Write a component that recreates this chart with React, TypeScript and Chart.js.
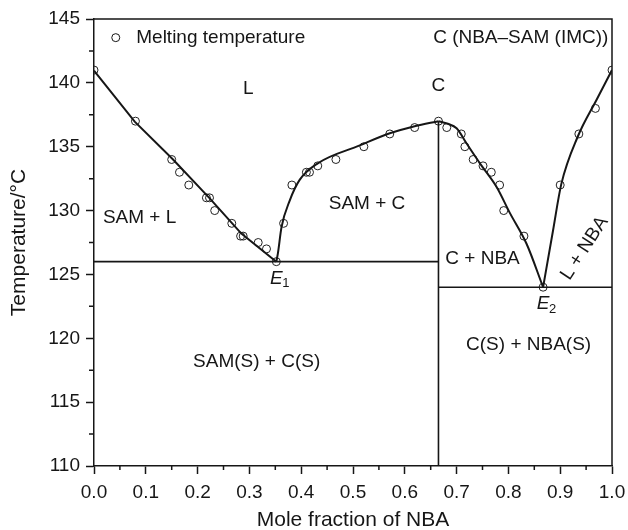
import React, { useEffect, useRef } from "react";
import { Chart, registerables } from "chart.js";

Chart.register(...registerables);

const FONT = '"Liberation Sans", Arial, Helvetica, sans-serif';
const INK = "#161616";

// Measured melting temperatures (open circles)
const meltX = [0.0, 0.08, 0.15, 0.165, 0.183, 0.217, 0.223, 0.233, 0.266, 0.283, 0.288, 0.317, 0.333, 0.352, 0.366, 0.382, 0.41, 0.416, 0.432, 0.467, 0.521, 0.571, 0.619, 0.665, 0.681, 0.709, 0.716, 0.732, 0.751, 0.767, 0.783, 0.791, 0.83, 0.867, 0.9, 0.936, 0.968, 1.0];
const meltT = [141, 137, 134, 133, 132, 131, 131, 130, 129, 128, 128, 127.5, 127, 126, 129, 132, 133, 133, 133.5, 134, 135, 136, 136.5, 137, 136.5, 136, 135, 134, 133.5, 133, 132, 130, 128, 124, 132, 136, 138, 141];

// Liquidus branches
const liqAX = [0.0, 0.0786, 0.1526, 0.2234, 0.2845, 0.352];
const liqAT = [140.95, 136.96, 134.0, 130.96, 128.2, 126];
const liqBX = [0.352, 0.355, 0.362, 0.378, 0.397, 0.432, 0.513, 0.571, 0.619, 0.665];
const liqBT = [126, 126.65, 128.7, 130.8, 132.4, 133.7, 135.1, 136.05, 136.6, 137];
const liqCX = [0.665, 0.683, 0.7, 0.719, 0.745, 0.777, 0.803, 0.835, 0.867];
const liqCT = [137, 136.8, 136.44, 135.27, 133.7, 131.87, 129.8, 127.4, 124];
const liqDX = [0.867, 0.886, 0.902, 0.934, 0.97, 1.0];
const liqDT = [124, 128.4, 132.05, 135.8, 138.66, 141];

// Eutectic lines and compound line
const eut1X = [0.0, 0.665];
const eut1T = [126, 126];
const eut2X = [0.665, 1.0];
const eut2T = [124, 124];
const compX = [0.665, 0.665];
const compT = [110, 137];

// Axis ticks
const xMajor = [0, 0.1, 0.2, 0.3, 0.4, 0.5, 0.6, 0.7, 0.8, 0.9, 1.0];
const xMinor = [0.05, 0.15, 0.25, 0.35, 0.45, 0.55, 0.65, 0.75, 0.85, 0.95];
const yMajor = [110, 115, 120, 125, 130, 135, 140, 145];
const yMinor = [112.5, 117.5, 122.5, 127.5, 132.5, 137.5, 142.5];

// Region labels (data coordinates)
const regionLabels = [
  { text: "L", x: 0.298, y: 139.5, align: "center", rot: 0 },
  { text: "C", x: 0.665, y: 139.75, align: "center", rot: 0 },
  { text: "SAM + L", x: 0.088, y: 129.4, align: "center", rot: 0 },
  { text: "SAM + C", x: 0.527, y: 130.5, align: "center", rot: 0 },
  { text: "C + NBA", x: 0.75, y: 126.2, align: "center", rot: 0 },
  { text: "SAM(S) + C(S)", x: 0.314, y: 118.2, align: "center", rot: 0 },
  { text: "C(S) + NBA(S)", x: 0.839, y: 119.5, align: "center", rot: 0 },
  { text: "C (NBA\u2013SAM (IMC))", x: 0.993, y: 143.5, align: "right", rot: 0 },
  { text: "L + NBA", x: 0.947, y: 127.05, align: "center", rot: -57 },
];
const eutecticLabels = [
  { main: "E", sub: "1", x: 0.352, y: 124.65 },
  { main: "E", sub: "2", x: 0.867, y: 122.68 },
];
const legendLabel = { text: "Melting temperature", x: 0.042, y: 143.54 };

const pts = (xs: number[], ys: number[]) => xs.map((x, i) => ({ x, y: ys[i] }));

const boundary = (xs: number[], ys: number[], width: number, curved: boolean) => ({
  data: pts(xs, ys),
  showLine: true,
  borderColor: INK,
  backgroundColor: INK,
  borderWidth: width,
  pointRadius: 0,
  pointHoverRadius: 0,
  fill: false,
  tension: 0,
  cubicInterpolationMode: curved ? "monotone" : "default",
});

const decor = {
  id: "decor",
  afterDraw(chart: any) {
    const { ctx, chartArea: a } = chart;
    const xs = chart.scales.x;
    const ys = chart.scales.y;
    ctx.save();
    ctx.strokeStyle = INK;
    ctx.lineWidth = 1.5;
    ctx.beginPath();
    ctx.moveTo(a.left, a.top);
    ctx.lineTo(a.right, a.top);
    ctx.lineTo(a.right, a.bottom);
    ctx.stroke();
    ctx.beginPath();
    xMinor.forEach((v) => {
      const px = xs.getPixelForValue(v);
      ctx.moveTo(px, a.bottom);
      ctx.lineTo(px, a.bottom + 4);
    });
    yMinor.forEach((v) => {
      const py = ys.getPixelForValue(v);
      ctx.moveTo(a.left, py);
      ctx.lineTo(a.left - 5, py);
    });
    ctx.stroke();

    ctx.fillStyle = INK;
    ctx.textBaseline = "middle";
    ctx.font = `19px ${FONT}`;
    regionLabels.forEach((l) => {
      const px = xs.getPixelForValue(l.x);
      const py = ys.getPixelForValue(l.y);
      ctx.save();
      ctx.translate(px, py);
      ctx.rotate((l.rot * Math.PI) / 180);
      ctx.textAlign = l.align as CanvasTextAlign;
      ctx.fillText(l.text, 0, 0);
      ctx.restore();
    });

    // legend
    const lx = xs.getPixelForValue(legendLabel.x);
    const ly = ys.getPixelForValue(legendLabel.y);
    ctx.beginPath();
    ctx.lineWidth = 1;
    ctx.arc(lx, ly, 4, 0, Math.PI * 2);
    ctx.stroke();
    ctx.textAlign = "left";
    ctx.fillText(legendLabel.text, lx + 20.5, ly + 0.5);

    // eutectic labels
    eutecticLabels.forEach((e) => {
      const px = xs.getPixelForValue(e.x);
      const py = ys.getPixelForValue(e.y);
      ctx.font = `italic 19px ${FONT}`;
      ctx.textAlign = "center";
      ctx.textBaseline = "middle";
      ctx.fillText(e.main, px, py);
      const w = ctx.measureText(e.main).width;
      ctx.font = `13px ${FONT}`;
      ctx.textAlign = "left";
      ctx.fillText(e.sub, px + w / 2 - 0.5, py + 5);
    });
    ctx.restore();
  },
};

export default function App() {
  const ref = useRef<HTMLCanvasElement>(null);
  useEffect(() => {
    if (!ref.current) return;
    Chart.defaults.color = INK;
    const chart = new Chart(ref.current, {
      type: "scatter",
      data: {
        datasets: [
          boundary(liqAX, liqAT, 2, false),
          boundary(liqBX, liqBT, 2, true),
          boundary(liqCX, liqCT, 2, true),
          boundary(liqDX, liqDT, 2, true),
          boundary(eut1X, eut1T, 1.6, false),
          boundary(eut2X, eut2T, 1.6, false),
          boundary(compX, compT, 1.6, false),
          {
            label: "Melting temperature",
            data: pts(meltX, meltT),
            pointStyle: "circle",
            pointRadius: 4,
            pointHoverRadius: 4,
            pointBorderWidth: 1,
            borderColor: "#222",
            backgroundColor: "rgba(0,0,0,0)",
            showLine: false,
          },
        ] as any,
      },
      options: {
        animation: false,
        responsive: false,
        devicePixelRatio: 1,
        layout: { padding: { top: 19, right: 16, bottom: 0, left: 0 } },
        plugins: { legend: { display: false }, tooltip: { enabled: false } },
        events: [],
        scales: {
          x: {
            type: "linear",
            min: 0,
            max: 1,
            afterFit: (s: any) => {
              s.height = 64;
              s.paddingLeft = 0;
              s.paddingRight = 0;
            },
            afterBuildTicks: (s: any) => {
              s.ticks = xMajor.map((v) => ({ value: v }));
            },
            ticks: {
              autoSkip: false,
              maxRotation: 0,
              padding: 7,
              color: INK,
              font: { family: FONT, size: 19 },
              callback: (v: any) => Number(v).toFixed(1),
            },
            grid: {
              display: true,
              drawOnChartArea: false,
              drawTicks: true,
              tickLength: 8,
              tickColor: INK,
              tickWidth: 1.5,
            },
            border: { display: true, color: INK, width: 1.5 },
            title: {
              display: true,
              text: "Mole fraction of NBA",
              color: INK,
              font: { family: FONT, size: 21, lineHeight: 0.9 },
              padding: { top: 0, bottom: 0 },
            },
          },
          y: {
            type: "linear",
            min: 110,
            max: 145,
            afterFit: (s: any) => {
              s.width = 94;
              s.paddingTop = 0;
              s.paddingBottom = 0;
            },
            afterBuildTicks: (s: any) => {
              s.ticks = yMajor.map((v) => ({ value: v }));
            },
            ticks: {
              autoSkip: false,
              padding: 6,
              color: INK,
              font: { family: FONT, size: 19 },
              callback: (v: any) => String(v),
            },
            grid: {
              display: true,
              drawOnChartArea: false,
              drawTicks: true,
              tickLength: 8,
              tickColor: INK,
              tickWidth: 1.5,
            },
            border: { display: true, color: INK, width: 1.5 },
            title: {
              display: true,
              text: "Temperature/\u00B0C",
              color: INK,
              font: { family: FONT, size: 21, lineHeight: 1.2 },
              padding: { top: 7, bottom: 0 },
            },
          },
        },
      } as any,
      plugins: [decor],
    });
    return () => chart.destroy();
  }, []);
  return (
    <div style={{ position: "absolute", left: 0, top: 0, width: 628, height: 530, background: "#fff" }}>
      <canvas ref={ref} width={628} height={530} />
    </div>
  );
}
